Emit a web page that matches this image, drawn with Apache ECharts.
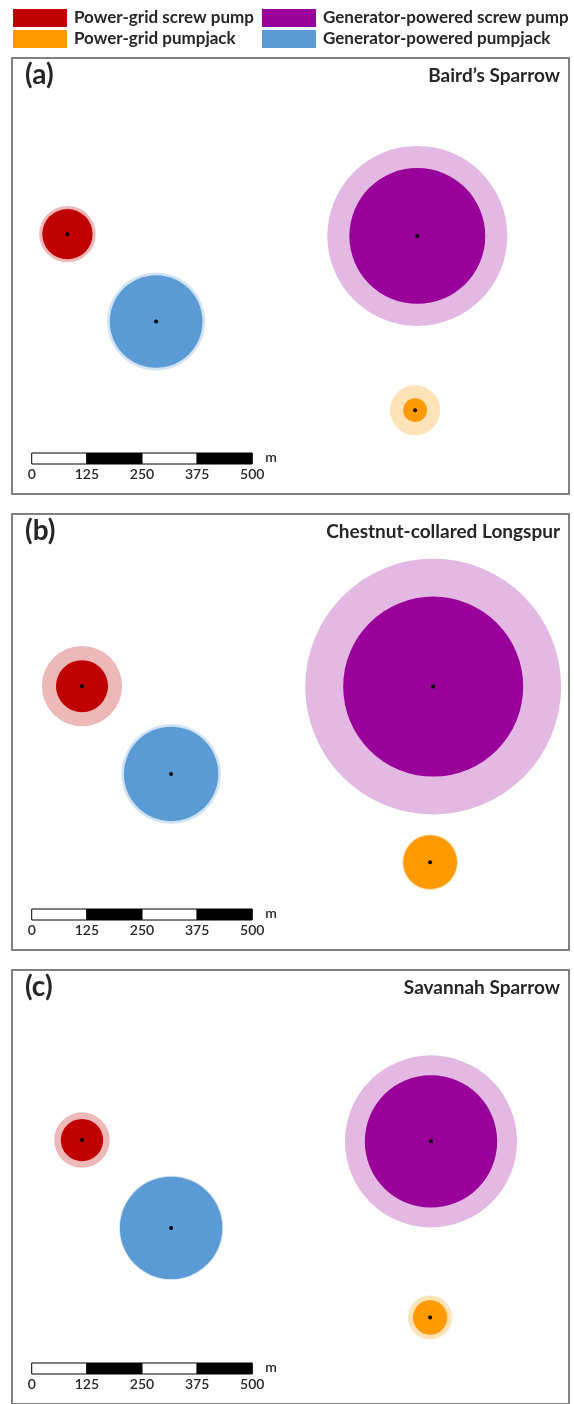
<!DOCTYPE html>
<html>
<head>
<meta charset="utf-8">
<title>Bird avoidance distances around oil well pumps</title>
<script src="https://cdn.jsdelivr.net/npm/echarts@6/dist/echarts.min.js"></script>
<style>
  html, body { margin: 0; padding: 0; background: #fff; }
  #chart { width: 574px; height: 1404px; }
</style>
</head>
<body>
<div id="chart"></div>
<script>
// Pump types, in legend order
const pumpTypes = ['Power-grid screw pump', 'Generator-powered screw pump', 'Power-grid pumpjack', 'Generator-powered pumpjack'];
const pumpColors = ['#C00000', '#990099', '#FF9A00', '#5B9BD5'];

// One panel per species
const panelTags = ['(a)', '(b)', '(c)'];
const species = ["Baird\u2019s Sparrow", 'Chestnut-collared Longspur', 'Savannah Sparrow'];

// Well locations on the map (metres east / north), one row per panel, pumpTypes order
const wellX = [
  [81, 874, 869, 282],
  [114, 910, 903, 316],
  [114, 905, 903, 316]
];
const wellY = [
  [589, 585, 190, 391],
  [598, 597, 199, 399],
  [601, 598, 197, 401]
];
// Estimated avoidance distance (m) and its upper bound (m)
const innerRadius = [
  [57, 154, 27, 105],
  [59, 204, 61, 107],
  [48, 150, 39, 116]
];
const outerRadius = [
  [64, 204, 57, 111],
  [91, 290, 63, 113],
  [63, 195, 50, 118]
];

// Scale bar ticks (m)
const scaleTicks = [0, 125, 250, 375, 500];

// ---- layout ----
const PX_PER_M = 220.6 / 500;
const PANEL_LEFT = 12;
const PANEL_W = 557;
const PANEL_H = 436;
const PANEL_TOPS = [58, 514, 970];
const BAR_ORIGIN_X = 31.7;           // pixel x of scale-bar zero
const X_MIN = -(BAR_ORIGIN_X - PANEL_LEFT) / PX_PER_M;
const FONT = 'Lato, "Open Sans", sans-serif';
const TEXT = '#262626';

function fade(hex, a) {
  const r = parseInt(hex.slice(1, 3), 16), g = parseInt(hex.slice(3, 5), 16), b = parseInt(hex.slice(5, 7), 16);
  return 'rgba(' + r + ',' + g + ',' + b + ',' + a + ')';
}

const grid = [], xAxis = [], yAxis = [], series = [], graphic = [];

PANEL_TOPS.forEach(function (top, p) {
  grid.push({
    left: PANEL_LEFT, top: top, width: PANEL_W, height: PANEL_H,
    show: true, borderColor: '#808080', borderWidth: 2, backgroundColor: '#fff'
  });
  xAxis.push({ gridIndex: p, type: 'value', min: X_MIN, max: X_MIN + PANEL_W / PX_PER_M, show: false });
  yAxis.push({ gridIndex: p, type: 'value', min: 0, max: PANEL_H / PX_PER_M, show: false });

  // one custom series per pump type: outer halo, inner disc, well marker
  pumpTypes.forEach(function (name, t) {
    series.push({
      type: 'custom',
      name: name,
      xAxisIndex: p, yAxisIndex: p,
      itemStyle: { color: pumpColors[t] },
      clip: false,
      data: [[wellX[p][t], wellY[p][t], innerRadius[p][t], outerRadius[p][t]]],
      renderItem: function (params, api) {
        const c = api.coord([api.value(0), api.value(1)]);
        const rIn = api.size([api.value(2), 0])[0];
        const rOut = api.size([api.value(3), 0])[0];
        return {
          type: 'group',
          children: [
            { type: 'circle', shape: { cx: c[0], cy: c[1], r: rOut }, style: { fill: fade(pumpColors[t], 0.28) } },
            { type: 'circle', shape: { cx: c[0], cy: c[1], r: rIn }, style: { fill: pumpColors[t] } },
            { type: 'circle', shape: { cx: c[0], cy: c[1], r: 2 }, style: { fill: '#000' } }
          ]
        };
      }
    });
  });

  // scale bar segments, alternating white / black
  const segs = [];
  for (let i = 0; i < scaleTicks.length - 1; i++) segs.push([scaleTicks[i], scaleTicks[i + 1], i % 2]);
  series.push({
    type: 'custom',
    xAxisIndex: p, yAxisIndex: p,
    clip: false,
    silent: true,
    data: segs,
    renderItem: function (params, api) {
      const a = api.coord([api.value(0), 0]);
      const b = api.coord([api.value(1), 0]);
      const yTop = a[1] - 41;
      const kids = [{
        type: 'rect',
        shape: { x: a[0], y: yTop, width: b[0] - a[0], height: 11 },
        style: { fill: api.value(2) ? '#000' : '#fff', stroke: '#000', lineWidth: 1 }
      }];
      if (params.dataIndex === segs.length - 1) {
        kids.push({ type: 'text', x: b[0] + 13, y: yTop + 4,
          style: { text: 'm', font: '600 14px ' + FONT, fill: TEXT, align: 'left', verticalAlign: 'middle' } });
      }
      return { type: 'group', children: kids };
    }
  });
  // scale bar tick labels
  series.push({
    type: 'custom',
    xAxisIndex: p, yAxisIndex: p,
    clip: false,
    silent: true,
    data: scaleTicks.map(function (v) { return [v]; }),
    renderItem: function (params, api) {
      const a = api.coord([api.value(0), 0]);
      return { type: 'text', x: a[0], y: a[1] - 20,
        style: { text: String(api.value(0)), font: '600 14px ' + FONT, fill: TEXT, align: 'center', verticalAlign: 'middle' } };
    }
  });

  graphic.push({ type: 'text', left: 25, top: top + 3,
    style: { text: panelTags[p], font: 'bold 28px ' + FONT, fill: TEXT } });
  graphic.push({ type: 'text', right: 574 - 560, top: top + 8,
    style: { text: species[p], font: 'bold 19px ' + FONT, fill: TEXT } });
});

const legendBase = {
  orient: 'vertical', top: 9, padding: 0, itemWidth: 54, itemHeight: 18, itemGap: 3,
  icon: 'rect', selectedMode: false,
  textStyle: { fontFamily: FONT, fontWeight: 'bold', fontSize: 17, color: TEXT, padding: [0, 0, 0, 2] }
};

const chart = echarts.init(document.getElementById('chart'), null, { renderer: 'canvas' });
chart.setOption({
  animation: false,
  backgroundColor: '#fff',
  legend: [
    Object.assign({}, legendBase, { left: 13, data: [pumpTypes[0], pumpTypes[2]] }),
    Object.assign({}, legendBase, { left: 262, data: [pumpTypes[1], pumpTypes[3]] })
  ],
  grid: grid,
  xAxis: xAxis,
  yAxis: yAxis,
  series: series,
  graphic: graphic
});
</script>
</body>
</html>
